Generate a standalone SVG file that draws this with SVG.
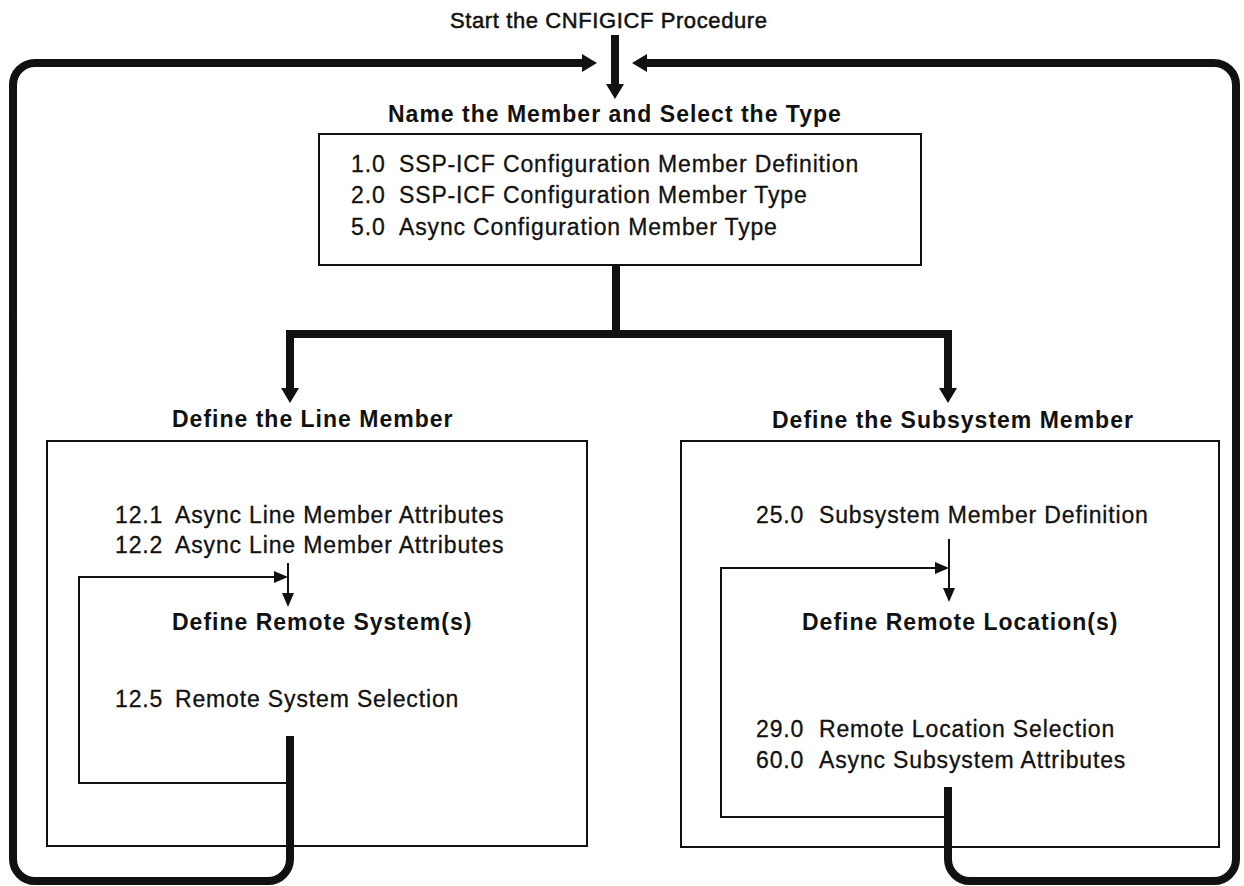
<svg xmlns="http://www.w3.org/2000/svg" width="1244" height="886" viewBox="0 0 1244 886">
  <defs>
    <style>
      .t { font-family: "Liberation Sans", Arial, Helvetica, sans-serif; font-size: 23px; letter-spacing: 0.85px; fill: #111; stroke: #111; stroke-width: 0.3px; }
      .h { font-family: "Liberation Sans", Arial, Helvetica, sans-serif; font-size: 23px; font-weight: bold; letter-spacing: 1px; fill: #111; }
      .s { font-family: "Liberation Sans", Arial, Helvetica, sans-serif; font-size: 22px; letter-spacing: 0.6px; fill: #111; stroke: #111; stroke-width: 0.5px; }
      .box { fill: none; stroke: #111; stroke-width: 2; }
      .thick { fill: none; stroke: #111; stroke-width: 8; stroke-linejoin: miter; }
      .thin { fill: none; stroke: #111; stroke-width: 2; }
    </style>
    <marker id="bigHead" markerUnits="userSpaceOnUse" markerWidth="16" markerHeight="18" refX="0" refY="9" orient="auto" overflow="visible">
      <path d="M0,0 L15,9 L0,18 Z" fill="#111"/>
    </marker>
    <marker id="smallHead" markerUnits="userSpaceOnUse" markerWidth="15" markerHeight="12" refX="0" refY="6" orient="auto" overflow="visible">
      <path d="M0,0 L14,6 L0,12 Z" fill="#111"/>
    </marker>
  </defs>
  <rect width="1244" height="886" fill="#fff"/>

  <g id="start">
    <text class="s" x="450" y="28">Start the CNFIGICF Procedure</text>
  </g>

  <g id="name-member">
    <text class="h" x="388" y="122">Name the Member and Select the Type</text>
    <rect class="box" x="319" y="134" width="602" height="131"/>
    <text class="t" x="351" y="172">1.0</text><text class="t" x="399" y="172">SSP-ICF Configuration Member Definition</text>
    <text class="t" x="351" y="203">2.0</text><text class="t" x="399" y="203">SSP-ICF Configuration Member Type</text>
    <text class="t" x="351" y="235">5.0</text><text class="t" x="399" y="235">Async Configuration Member Type</text>
  </g>

  <g id="line-member">
    <text class="h" x="172" y="427">Define the Line Member</text>
    <rect class="box" x="47" y="441" width="540" height="405"/>
    <text class="t" x="115" y="523">12.1</text><text class="t" x="175" y="523">Async Line Member Attributes</text>
    <text class="t" x="115" y="553">12.2</text><text class="t" x="175" y="553">Async Line Member Attributes</text>
    <text class="h" x="172" y="630">Define Remote System(s)</text>
    <text class="t" x="115" y="707">12.5</text><text class="t" x="175" y="707">Remote System Selection</text>
  </g>

  <g id="subsystem-member">
    <text class="h" x="772" y="428">Define the Subsystem Member</text>
    <rect class="box" x="681" y="441" width="538" height="406"/>
    <text class="t" x="756" y="523">25.0</text><text class="t" x="819" y="523">Subsystem Member Definition</text>
    <text class="h" x="802" y="630">Define Remote Location(s)</text>
    <text class="t" x="756" y="737">29.0</text><text class="t" x="819" y="737">Remote Location Selection</text>
    <text class="t" x="756" y="768">60.0</text><text class="t" x="819" y="768">Async Subsystem Attributes</text>
  </g>

  <g id="connectors">
    <path class="thick" d="M615,35 V84" marker-end="url(#bigHead)"/>
    <path class="thick" d="M290,736 V859 A22,22 0 0 1 268,881 H35 A22,22 0 0 1 13,859 V85 A22,22 0 0 1 35,63 H582" marker-end="url(#bigHead)"/>
    <path class="thick" d="M948,787 V859 A22,22 0 0 0 970,881 H1214 A22,22 0 0 0 1236,859 V85 A22,22 0 0 0 1214,63 H647" marker-end="url(#bigHead)"/>
    <path class="thick" d="M616,265 V334"/>
    <path class="thick" d="M620,334 H290 V388" marker-end="url(#bigHead)"/>
    <path class="thick" d="M612,334 H948 V388" marker-end="url(#bigHead)"/>
    <path class="thin" d="M288,563 V593" marker-end="url(#smallHead)"/>
    <path class="thin" d="M290,783 H79 V577 H274" marker-end="url(#smallHead)"/>
    <path class="thin" d="M949,539 V588" marker-end="url(#smallHead)"/>
    <path class="thin" d="M948,817 H721 V568 H935" marker-end="url(#smallHead)"/>
  </g>
</svg>
